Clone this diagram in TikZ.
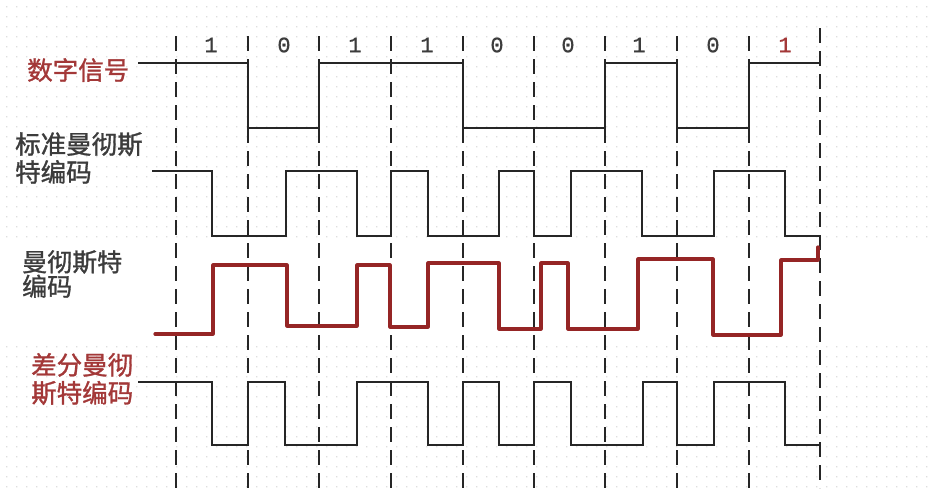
\documentclass[tikz,border=0pt]{standalone}
\usepackage{fontspec}
\newfontfamily\cjk[FakeBold=1.2]{Noto Sans CJK SC}
\newfontfamily\monofnt[FakeBold=0.8]{Liberation Mono}
\definecolor{labred}{HTML}{A33838}
\definecolor{labgray}{HTML}{3C3C3C}
\definecolor{wavered}{HTML}{952525}
\definecolor{wavegray}{HTML}{262626}
\begin{document}
\begin{tikzpicture}[x=1pt,y=-1pt,
  cjklab/.style={font=\cjk\fontsize{25.5}{28}\selectfont, inner sep=0pt, align=left, anchor=west},
  bitlab/.style={font=\monofnt\fontsize{22}{22}\selectfont, inner sep=0pt, text=labgray},
  boundary/.style={draw=wavegray, line width=2.2pt, dash pattern=on 15pt off 8pt},
  wave/.style={draw=wavegray, line width=2.4pt, line join=miter},
  redwave/.style={draw=wavered, line width=3.2pt, line join=round, line cap=round}]
\useasboundingbox (0,0) rectangle (936,488);
\fill[white] (0,0) rectangle (936,488);
% faint dotted background grid
\fill[black!13] \foreach \x in {6,16,...,926} {\foreach \y in {6,16,...,236} {(\x,\y) rectangle ++(1.3,1.3)}};
\fill[black!13] \foreach \x in {6,16,...,926} {\foreach \y in {346,356,...,486} {(\x,\y) rectangle ++(1.3,1.3)}};
% bit boundaries
\foreach \x in {176,248,319,391,463,534,605,677,749} {
  \draw[boundary] (\x,36) -- (\x,488);
}
\draw[boundary] (820,28) -- (820,488);
% bit values
\node[bitlab] (b1) at (211,45) {1};
\node[bitlab] (b2) at (284,45) {0};
\node[bitlab] (b3) at (355,45) {1};
\node[bitlab] (b4) at (427,45) {1};
\node[bitlab] (b5) at (497,45) {0};
\node[bitlab] (b6) at (568,45) {0};
\node[bitlab] (b7) at (639,45) {1};
\node[bitlab] (b8) at (713,45) {0};
\node[bitlab, text=labred] (b9) at (785,45) {1};
% labels
\node[cjklab, text=labred] (ldig) at (27,70) {数字信号};
\node[cjklab, text=labgray] (lstd) at (15,158) {标准曼彻斯\\特编码};
\node[cjklab, text=labgray, font=\cjk\fontsize{25}{23}\selectfont] (lman) at (22,274) {曼彻斯特\\编码};
\node[cjklab, text=labred] (ldif) at (31,379) {差分曼彻\\斯特编码};
% digital signal
\draw[wave] (138,63) -- (248,63) -- (248,128) -- (319,128) -- (319,63) -- (463,63) -- (463,128)
  -- (605,128) -- (605,63) -- (677,63) -- (677,128) -- (749,128) -- (749,63) -- (820,63);
% standard Manchester
\draw[wave] (152,171) -- (212,171) -- (212,236) -- (286,236) -- (286,171) -- (357,171) -- (357,236)
  -- (391,236) -- (391,171) -- (428,171) -- (428,236) -- (499,236) -- (499,171) -- (534,171)
  -- (534,236) -- (571,236) -- (571,171) -- (642,171) -- (642,236) -- (714,236) -- (714,171)
  -- (785,171) -- (785,236) -- (820,236);
% Manchester (red)
\draw[redwave] (155,334) -- (213,334) -- (213,265) -- (287,265) -- (287,326) -- (357,326)
  -- (357,265) -- (390,265) -- (390,327) -- (428,327) -- (428,263) -- (499,263) -- (499,329)
  -- (541,329) -- (541,263) -- (568,263) -- (568,329) -- (638,329) -- (638,259) -- (713,259)
  -- (713,335) -- (781,335) -- (781,260) -- (818,260) -- (818,247);
% differential Manchester
\draw[wave] (138,382) -- (212,382) -- (212,445) -- (248,445) -- (248,382) -- (285,382) -- (285,445)
  -- (357,445) -- (357,382) -- (428,382) -- (428,445) -- (463,445) -- (463,382) -- (499,382)
  -- (499,445) -- (534,445) -- (534,382) -- (571,382) -- (571,445) -- (643,445) -- (643,382)
  -- (677,382) -- (677,445) -- (714,445) -- (714,382) -- (785,382) -- (785,445) -- (820,445);
\end{tikzpicture}
\end{document}
